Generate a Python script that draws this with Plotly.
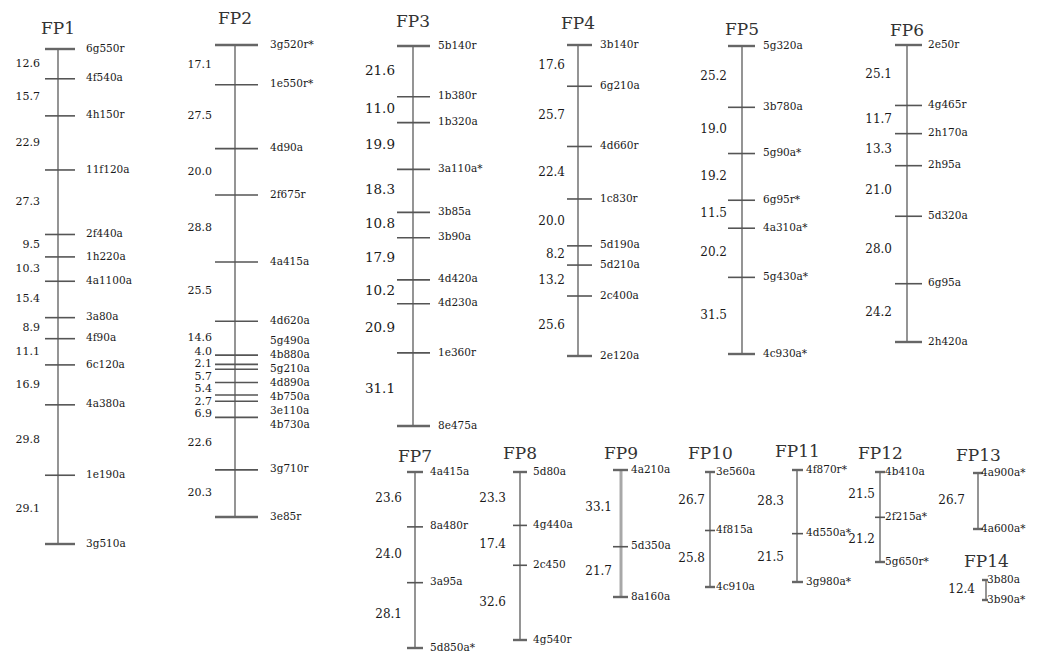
import plotly.graph_objects as go

# ---------------- data: linkage groups (marker names, interval distances in cM) ----------------
group_names = ["FP1", "FP2", "FP3", "FP4", "FP5", "FP6", "FP7",
               "FP8", "FP9", "FP10", "FP11", "FP12", "FP13", "FP14"]

fp1_markers = ["6g550r", "4f540a", "4h150r", "11f120a", "2f440a", "1h220a", "4a1100a",
               "3a80a", "4f90a", "6c120a", "4a380a", "1e190a", "3g510a"]
fp1_cm = [12.6, 15.7, 22.9, 27.3, 9.5, 10.3, 15.4, 8.9, 11.1, 16.9, 29.8, 29.1]

fp2_markers = ["3g520r*", "1e550r*", "4d90a", "2f675r", "4a415a", "4d620a", "5g490a",
               "4b880a", "5g210a", "4d890a", "4b750a", "3e110a", "4b730a", "3g710r", "3e85r"]
fp2_cm = [17.1, 27.5, 20.0, 28.8, 25.5, 14.6, 4.0, 2.1, 5.7, 5.4, 2.7, 6.9, 22.6, 20.3]

fp3_markers = ["5b140r", "1b380r", "1b320a", "3a110a*", "3b85a", "3b90a", "4d420a",
               "4d230a", "1e360r", "8e475a"]
fp3_cm = [21.6, 11.0, 19.9, 18.3, 10.8, 17.9, 10.2, 20.9, 31.1]

fp4_markers = ["3b140r", "6g210a", "4d660r", "1c830r", "5d190a", "5d210a", "2c400a", "2e120a"]
fp4_cm = [17.6, 25.7, 22.4, 20.0, 8.2, 13.2, 25.6]

fp5_markers = ["5g320a", "3b780a", "5g90a*", "6g95r*", "4a310a*", "5g430a*", "4c930a*"]
fp5_cm = [25.2, 19.0, 19.2, 11.5, 20.2, 31.5]

fp6_markers = ["2e50r", "4g465r", "2h170a", "2h95a", "5d320a", "6g95a", "2h420a"]
fp6_cm = [25.1, 11.7, 13.3, 21.0, 28.0, 24.2]

fp7_markers = ["4a415a", "8a480r", "3a95a", "5d850a*"]
fp7_cm = [23.6, 24.0, 28.1]

fp8_markers = ["5d80a", "4g440a", "2c450", "4g540r"]
fp8_cm = [23.3, 17.4, 32.6]

fp9_markers = ["4a210a", "5d350a", "8a160a"]
fp9_cm = [33.1, 21.7]

fp10_markers = ["3e560a", "4f815a", "4c910a"]
fp10_cm = [26.7, 25.8]

fp11_markers = ["4f870r*", "4d550a*", "3g980a*"]
fp11_cm = [28.3, 21.5]

fp12_markers = ["4b410a", "2f215a*", "5g650r*"]
fp12_cm = [21.5, 21.2]

fp13_markers = ["4a900a*", "4a600a*"]
fp13_cm = [26.7]

fp14_markers = ["3b80a", "3b90a*"]
fp14_cm = [12.4]

all_markers = [fp1_markers, fp2_markers, fp3_markers, fp4_markers, fp5_markers, fp6_markers,
               fp7_markers, fp8_markers, fp9_markers, fp10_markers, fp11_markers,
               fp12_markers, fp13_markers, fp14_markers]
all_cm = [fp1_cm, fp2_cm, fp3_cm, fp4_cm, fp5_cm, fp6_cm, fp7_cm, fp8_cm, fp9_cm,
          fp10_cm, fp11_cm, fp12_cm, fp13_cm, fp14_cm]

# ---------------- layout (page placement of each group, in pixels) ----------------
W, H = 1041, 656
# line_x, top_px, bottom_px, tick_left, tick_right, label_x, cm_right_x, title_y, cm_font
placement = [
    (58, 49, 544, 45, 75, 86, 40, 28, 11),
    (235, 45, 517, 215, 258, 270, 212, 18, 11),
    (413, 46, 426, 397, 430, 438, 395, 21, 13.5),
    (578, 45, 356, 567, 592, 600, 565, 23, 12),
    (742, 46, 354, 728, 755, 763, 727, 29, 12),
    (907, 45, 342, 895, 922, 928, 892, 30, 12),
    (415, 472, 648, 407, 423, 430, 402, 456, 12),
    (520, 472, 640, 513, 527, 533, 506, 453, 12),
    (621, 470, 597, 613, 628, 631, 612, 453, 12),
    (710, 472, 587, 705, 715, 716, 705, 453, 12),
    (797, 470, 582, 792, 803, 806, 784, 451, 12),
    (880, 472, 562, 875, 885, 885, 875, 453, 12),
    (978, 473, 529, 973, 983, 981, 965, 455, 12),
    (986, 580, 600, 982, 988, 987, 975, 561, 12),
]

FONT = "DejaVu Serif"
LINE_COLOR = "#7a7a7a"
TICK_COLOR = "#555555"
TEXT_COLOR = "#1a1a1a"


def spread(desired, gap):
    """Push label positions apart so neighbours are at least `gap` px apart."""
    blocks = []
    for p in desired:
        blocks.append([p])
        while len(blocks) > 1:
            a, b = blocks[-2], blocks[-1]
            ta = sum(v - j * gap for j, v in enumerate(a)) / len(a)
            tb = sum(v - j * gap for j, v in enumerate(b)) / len(b)
            if ta + len(a) * gap > tb:
                blocks[-2] = a + b
                blocks.pop()
            else:
                break
    out = []
    for b in blocks:
        t = sum(v - j * gap for j, v in enumerate(b)) / len(b)
        out.extend(t + j * gap for j in range(len(b)))
    return out


fig = go.Figure()
layout_axes = {}
annotations = []

for k, (name, markers, cms, pl) in enumerate(zip(group_names, all_markers, all_cm, placement), start=1):
    lx, top, bot, tl, tr, labx, cmx, ty, cmfont = pl
    cum = [0.0]
    for d in cms:
        cum.append(cum[-1] + d)
    total = cum[-1]
    s = (bot - top) / total  # px per cM
    yref = "y" if k == 1 else f"y{k}"
    axkey = "yaxis" if k == 1 else f"yaxis{k}"
    ax = dict(range=[(H - top) / s, -top / s], visible=False, domain=[0, 1], fixedrange=True)
    if k > 1:
        ax["overlaying"] = "y"
    layout_axes[axkey] = ax

    lw = 3 if name == "FP9" else 1.6
    lc = "#a8a8a8" if name == "FP9" else LINE_COLOR
    # chromosome bar
    fig.add_trace(go.Scatter(x=[lx, lx], y=[0, total], mode="lines", yaxis=yref,
                             line=dict(color=lc, width=lw), hoverinfo="skip", showlegend=False))
    # marker ticks
    tx, tyy = [], []
    for c in cum:
        tx += [tl, tr, None]
        tyy += [c, c, None]
    fig.add_trace(go.Scatter(x=tx, y=tyy, mode="lines", yaxis=yref,
                             line=dict(color=TICK_COLOR, width=1.6), hoverinfo="skip",
                             showlegend=False))
    # end ticks slightly heavier
    fig.add_trace(go.Scatter(x=[tl, tr, None, tl, tr], y=[0, 0, None, total, total],
                             mode="lines", yaxis=yref, line=dict(color="#666666", width=2.4),
                             hoverinfo="skip", showlegend=False))
    # marker names
    lab_px = spread([top + c * s for c in cum], 14)
    fig.add_trace(go.Scatter(x=[labx] * len(markers), y=[(p - top) / s for p in lab_px],
                             mode="text", text=markers, textposition="middle right",
                             yaxis=yref, cliponaxis=False, hoverinfo="skip", showlegend=False,
                             textfont=dict(family=FONT, size=10.5, color=TEXT_COLOR)))
    # interval distances
    mids = [top + (cum[i] + cum[i + 1]) / 2 * s for i in range(len(cms))]
    mid_px = spread(mids, 12.5)
    fig.add_trace(go.Scatter(x=[cmx] * len(cms), y=[(p - top) / s for p in mid_px],
                             mode="text", text=[f"{v:.1f}" for v in cms],
                             textposition="middle left", yaxis=yref, cliponaxis=False,
                             hoverinfo="skip", showlegend=False,
                             textfont=dict(family=FONT, size=cmfont, color=TEXT_COLOR)))
    annotations.append(dict(x=lx, xref="x", y=1 - ty / H, yref="paper", text=name,
                            showarrow=False, xanchor="center", yanchor="middle",
                            font=dict(family=FONT, size=17, color="#333333")))

fig.update_layout(
    width=W, height=H, autosize=False,
    margin=dict(l=0, r=0, t=0, b=0),
    paper_bgcolor="white", plot_bgcolor="white",
    xaxis=dict(range=[0, W], visible=False, fixedrange=True),
    annotations=annotations,
    showlegend=False,
    **layout_axes,
)

fig.write_html("out.html", config={"displayModeBar": False},
               post_script="document.body.style.margin='0';")
